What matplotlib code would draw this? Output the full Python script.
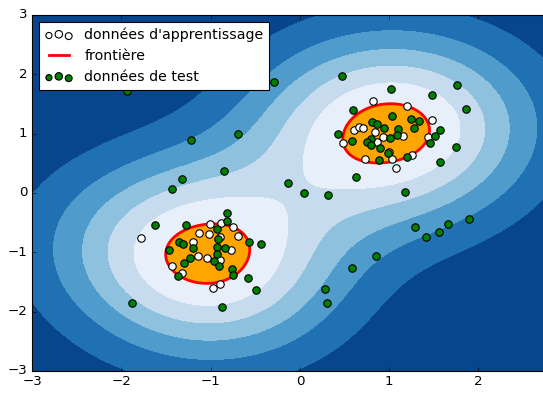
import numpy as np
import matplotlib
matplotlib.use("Agg")
import matplotlib.pyplot as plt
from matplotlib.lines import Line2D
from matplotlib.legend_handler import HandlerPathCollection

plt.style.use("classic")

# training data (white points)
train_x = [0.821, 1.195, 1.475, 0.605, 0.664, 0.702, 0.840, 0.933, 1.150, 0.866,
           0.485, 1.437, 1.000, 1.027, 0.728, 1.251, 1.072,
           -1.784, -1.008, -0.888, -0.747, -0.691, -1.131, -1.022, -1.202, -0.896,
           -0.773, -1.139, -1.038, -0.896, -1.437, -1.325, -0.971, -0.896]
train_y = [1.556, 1.466, 1.230, 1.062, 1.117, 1.090, 1.033, 0.939, 0.961, 0.865,
           0.838, 0.939, 0.696, 0.573, 0.573, 0.646, 0.416,
           -0.764, -0.522, -0.511, -0.578, -0.725, -0.679, -0.696, -0.821, -0.737,
           -0.961, -1.062, -1.101, -1.129, -1.225, -1.343, -1.606, -1.539]

# test data (green points)
test_x = [0.467, 1.019, 1.761, 1.475, 1.856, 0.597, 1.030, 1.240, 1.336, 0.810,
          0.866, 0.944, 1.094, 1.280, 1.568, 0.429, 1.083, 1.008, 0.795, 1.512,
          0.579, 0.754, 1.456, 0.792, 0.896, 1.747, 0.989, 1.195, 0.888, 1.568,
          0.627,
          -0.131, 0.045, 0.310, 1.179, 1.291, 1.408, 1.560, 1.661, 1.893, 0.851,
          0.579, 0.280, 0.306, -0.291, -1.937, -1.221, -0.698, -0.854, -1.321,
          -1.437,
          -0.821, -0.821, -1.624, -1.277, -0.933, -0.915, -1.352, -1.314, -0.568,
          -0.440, -1.202, -0.926, -0.840, -1.464, -0.933, -1.235, -1.296, -0.963,
          -0.907, -0.765, -0.754, -1.370, -0.579, -0.496, -1.876, -0.877]
test_y = [1.972, 1.748, 1.820, 1.657, 1.416, 1.399, 1.298, 1.242, 1.219, 1.197,
          1.163, 1.091, 1.079, 1.101, 1.062, 0.999, 0.978, 0.927, 0.915, 0.961,
          0.871, 0.865, 0.848, 0.809, 0.758, 0.780, 0.669, 0.602, 0.556, 0.528,
          0.275,
          0.169, 0.005, -0.034, 0.012, -0.568, -0.742, -0.652, -0.522, -0.433, -1.062,
          -1.269, -1.618, -1.859, 1.871, 1.719, 0.888, 0.989, 0.366, 0.231,
          0.067,
          -0.342, -0.467, -0.539, -0.539, -0.612, -0.775, -0.821, -0.860, -0.831,
          -0.865, -0.932, -0.905, -0.922, -0.961, -1.028, -1.101, -1.175, -1.146,
          -1.225, -1.281, -1.382, -1.399, -1.428, -1.635, -1.857, -1.913]

labels = ["données d'apprentissage", "frontière", "données de test"]
xtick_vals = [-3, -2, -1, 0, 1, 2]
ytick_vals = [-3, -2, -1, 0, 1, 2, 3]

NU = 0.25
GAMMA = 0.5


def one_class_svm(X, nu, gamma, iters=3000):
    n = len(X)
    K = np.exp(-gamma * ((X[:, None, :] - X[None, :, :]) ** 2).sum(-1))
    C = 1.0 / (nu * n)
    L = np.linalg.eigvalsh(K).max()

    def proj(v):
        lo, hi = v.min() - C - 1.0, v.max() + 1.0
        for _ in range(60):
            t = 0.5 * (lo + hi)
            if np.clip(v - t, 0, C).sum() > 1:
                lo = t
            else:
                hi = t
        return np.clip(v - 0.5 * (lo + hi), 0, C)

    a = np.full(n, 1.0 / n)
    y = a.copy()
    tk = 1.0
    for _ in range(iters):
        a_new = proj(y - K @ y / L)
        tk1 = (1 + np.sqrt(1 + 4 * tk * tk)) / 2
        y = a_new + (tk - 1) / tk1 * (a_new - a)
        a, tk = a_new, tk1
    g = K @ a
    free = (a > 1e-5 * C) & (a < C * (1 - 1e-4))
    if free.any():
        rho = g[free].mean()
    else:
        rho = 0.5 * (g[a > 1e-5 * C].max() + g[a <= 1e-5 * C].min())
    return a, rho


X = np.column_stack([train_x, train_y])
alpha, rho = one_class_svm(X, NU, GAMMA)

xx, yy = np.meshgrid(np.linspace(-3, 3, 400), np.linspace(-3, 3, 400))
P = np.column_stack([xx.ravel(), yy.ravel()])
Kg = np.exp(-GAMMA * ((P[:, None, :] - X[None, :, :]) ** 2).sum(-1))
Z = (Kg @ alpha - rho).reshape(xx.shape)

fig = plt.figure(figsize=(543 / 80, 393 / 80), dpi=80)
fig.patch.set_facecolor("white")
ax = fig.add_axes([32 / 543, 22 / 393, 6 * 89.3 / 543, 356 / 393])

ax.contourf(xx, yy, Z, levels=np.linspace(Z.min(), 0, 7), cmap=plt.cm.Blues_r)
ax.contourf(xx, yy, Z, levels=[0, Z.max()], colors="orange")
ax.contour(xx, yy, Z, levels=[0], linewidths=2.5, colors="red")

s_tr = ax.scatter(train_x, train_y, c="white", s=45, edgecolors="black", zorder=3)
s_te = ax.scatter(test_x, test_y, c="green", s=45, edgecolors="black", zorder=3)

ax.set_xlim(-3, 3)
ax.set_ylim(-3, 3)
ax.set_xticks(xtick_vals)
ax.set_yticks(ytick_vals)

line = Line2D([], [], color="red", linewidth=2.5)
hmap = {s_tr: HandlerPathCollection(sizes=[30, 45, 38]),
        s_te: HandlerPathCollection(sizes=[30, 45, 38])}
ax.legend([s_tr, line, s_te], labels, loc="upper left", fontsize=12.7,
          handler_map=hmap)

fig.savefig("out.png", dpi=80, facecolor="white")
